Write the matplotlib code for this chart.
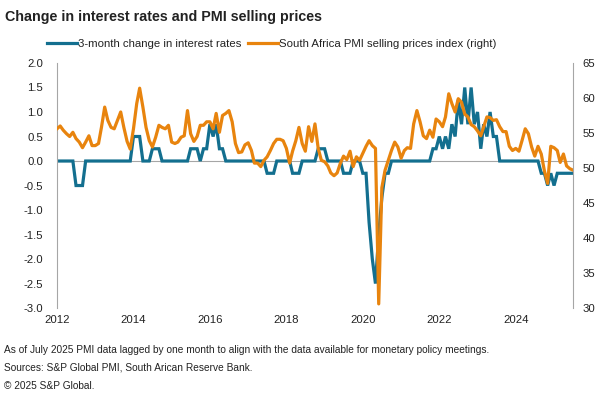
import numpy as np
import pandas as pd
from matplotlib import pyplot as plt

plt.rcParams['font.family'] = ['Liberation Sans', 'DejaVu Sans']
plt.rcParams['axes.unicode_minus'] = False

# monthly, Jan 2012 .. Jul 2025
rate_change = [
    0, 0, 0, 0, 0, 0, -0.5, -0.5, -0.5, 0, 0, 0,                        # 2012
    0, 0, 0, 0, 0, 0, 0, 0, 0, 0, 0, 0,                                 # 2013
    0.5, 0.5, 0.5, 0, 0, 0, 0.25, 0.25, 0.25, 0, 0, 0,                  # 2014
    0, 0, 0, 0, 0, 0, 0.25, 0.25, 0.25, 0, 0.25, 0.25,                  # 2015
    0.75, 0.5, 0.75, 0.25, 0.25, 0, 0, 0, 0, 0, 0, 0,                   # 2016
    0, 0, 0, 0, 0, 0, -0.25, -0.25, -0.25, 0, 0, 0,                     # 2017
    0, 0, -0.25, -0.25, -0.25, 0, 0, 0, 0, 0, 0.25, 0.25,               # 2018
    0.25, 0, 0, 0, 0, 0, -0.25, -0.25, -0.25, 0, 0, 0,                  # 2019
    -0.25, -0.25, -1.25, -2.0, -2.5, -1.5, -0.75, -0.25, -0.25, 0, 0, 0,  # 2020
    0, 0, 0, 0, 0, 0, 0, 0, 0, 0, 0.25, 0.25,                           # 2021
    0.5, 0.25, 0.5, 0.25, 0.75, 0.5, 1.25, 0.75, 1.5, 0.75, 1.5, 0.75,  # 2022
    1.0, 0.25, 0.75, 0.5, 1.0, 0.5, 0.5, 0, 0, 0, 0, 0,                 # 2023
    0, 0, 0, 0, 0, 0, 0, 0, -0.25, -0.25, -0.5, -0.25,                  # 2024
    -0.5, -0.25, -0.25, -0.25, -0.25, -0.25, -0.25,                     # 2025
]

pmi_prices = [
    55.6, 56.0, 55.4, 54.9, 54.5, 55.1, 54.2, 53.7, 52.9, 53.7, 54.6, 53.2,
    53.2, 53.5, 55.8, 58.7, 56.8, 55.8, 55.6, 56.8, 58.0, 55.8, 53.8, 52.7,
    55.6, 59.2, 61.4, 58.7, 55.8, 53.9, 53.0, 54.4, 56.1, 55.8, 55.6, 56.1,
    53.7, 53.5, 53.7, 54.4, 54.6, 58.2, 54.9, 53.8, 54.5, 56.1, 56.1, 56.6,
    56.6, 55.6, 57.8, 55.1, 57.5, 57.8, 58.2, 56.6, 53.5, 52.2, 52.3, 53.3,
    53.6, 52.5, 50.7, 50.7, 50.2, 51.1, 51.6, 52.5, 53.5, 54.1, 54.1, 53.9,
    52.8, 50.7, 52.4, 53.9, 55.8, 53.5, 52.4, 55.9, 53.8, 56.3, 52.8, 51.1,
    50.9, 50.3, 49.3, 48.9, 49.3, 50.7, 51.7, 51.2, 52.4, 50.2, 51.6, 51.1,
    52.1, 53.1, 53.9, 53.2, 52.8, 30.6, 47.2, 49.7, 51.1, 52.5, 53.7, 53.0,
    51.4, 52.5, 52.9, 52.8, 56.3, 58.2, 56.6, 54.6, 54.2, 55.4, 54.4, 57.0,
    56.6, 55.9, 57.3, 60.6, 59.2, 58.0, 59.9, 59.4, 57.7, 57.3, 56.2, 55.9,
    55.3, 54.6, 55.9, 57.3, 57.2, 56.8, 56.9, 55.9, 55.2, 55.2, 53.1, 52.5,
    52.8, 52.4, 53.9, 55.6, 54.9, 53.0, 51.7, 53.1, 52.0, 49.6, 47.8, 53.1,
    52.9, 52.5, 50.8, 52.0, 50.3, 49.9, 49.7,
]

dates = pd.date_range('2012-01-01', periods=len(rate_change), freq='MS')

blue = '#136f8f'
orange = '#e8840e'
grey = '#a6a6a6'
txt = '#222222'

fig = plt.figure(figsize=(6.06, 3.96), dpi=100)
ax = fig.add_axes([0.094, 0.222, 0.8515, 0.619])
ax2 = ax.twinx()

l1, = ax.plot(dates, rate_change, color=blue, lw=2.3, solid_joinstyle='miter')
l2, = ax2.plot(dates, pmi_prices, color=orange, lw=2.3)
ax.axhline(0, color=grey, lw=0.8, zorder=0)

ax.set_xlim(dates[0], dates[-1])
ax.set_ylim(-3, 2)
ax2.set_ylim(30, 65)
ax.set_yticks(np.arange(-3, 2.01, 0.5))
ax.set_yticklabels(['%.1f' % t for t in np.arange(-3, 2.01, 0.5)])
ax2.set_yticks(range(30, 66, 5))
years = pd.date_range('2012-01-01', '2024-01-01', freq='2YS')
ax.set_xticks(years)
ax.set_xticklabels([str(d.year) for d in years])

for a in (ax, ax2):
    for s in ('top', 'bottom', 'left', 'right'):
        a.spines[s].set_visible(False)
    a.tick_params(length=0, labelsize=8.2, colors=txt)
ax.spines['left'].set_visible(True)
ax.spines['left'].set_color(grey)
ax2.spines['right'].set_visible(True)
ax2.spines['right'].set_color(grey)
ax.tick_params(axis='y', pad=10)
ax2.tick_params(axis='y', pad=7)
ax.tick_params(axis='x', pad=5)

fig.text(0.008, 0.958, 'Change in interest rates and PMI selling prices',
         fontsize=10.3, fontweight='bold', color=txt, va='center')
fig.legend([l1, l2], ['3-month change in interest rates',
                      'South Africa PMI selling prices index (right)'],
           loc='center', bbox_to_anchor=(0.448, 0.888), ncol=2, frameon=False,
           fontsize=8.2, handlelength=2.6, handletextpad=0.1, columnspacing=0.6,
           labelcolor=txt)

notes = ['As of July 2025 PMI data lagged by one month to align with the data available for monetary policy meetings.',
         'Sources: S&P Global PMI, South Arican Reserve Bank.',
         '\u00a9 2025 S&P Global.']
for i, n in enumerate(notes):
    fig.text(0.007, 0.116 - i * 0.045, n, fontsize=7.3, color=txt, va='center')

fig.savefig('out.png', dpi=100)
